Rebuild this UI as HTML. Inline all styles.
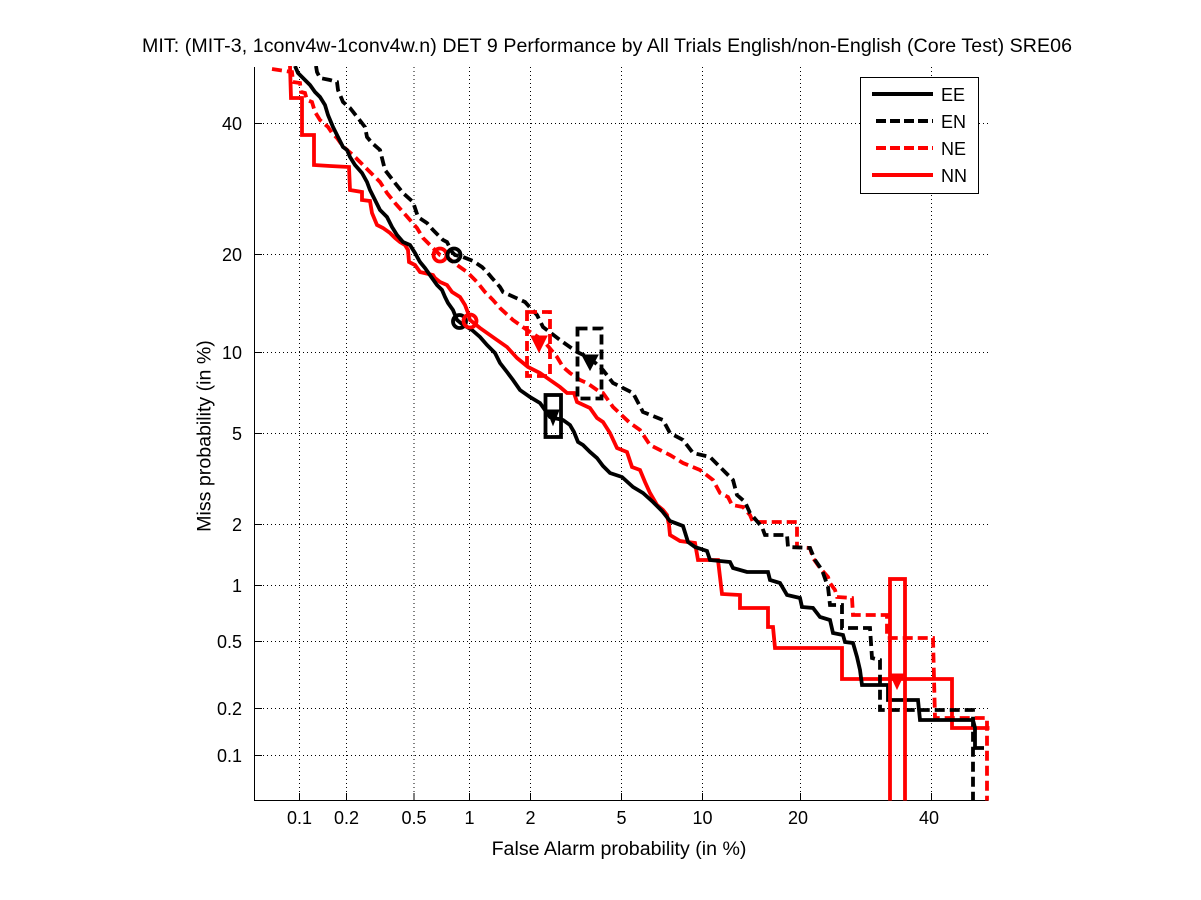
<!DOCTYPE html>
<html>
<head>
<meta charset="utf-8">
<style>
  html, body { margin: 0; padding: 0; background: #ffffff; }
  svg { display: block; }
  text { font-family: "Liberation Sans", Arial, Helvetica, sans-serif; fill: #000; }
</style>
</head>
<body>
<svg width="1201" height="900" viewBox="0 0 1201 900" xmlns="http://www.w3.org/2000/svg">
  <defs>
    <clipPath id="plotclip">
      <rect x="254.5" y="66" width="735" height="734.5"/>
    </clipPath>
  </defs>
  <rect x="0" y="0" width="1201" height="900" fill="#ffffff"/>

  <!-- Title -->
  <text x="142" y="52" font-size="19.6" textLength="930" lengthAdjust="spacing">MIT: (MIT-3, 1conv4w-1conv4w.n) DET 9 Performance by All Trials English/non-English (Core Test) SRE06</text>

  <!-- Grid (dotted) -->
  <g stroke="#000" stroke-width="1" stroke-dasharray="1 3" shape-rendering="crispEdges" fill="none">
    <line x1="299.5" y1="67" x2="299.5" y2="800"/>
    <line x1="346.5" y1="67" x2="346.5" y2="800"/>
    <line x1="414" y1="67" x2="414" y2="800"/>
    <line x1="469.5" y1="67" x2="469.5" y2="800"/>
    <line x1="530.5" y1="67" x2="530.5" y2="800"/>
    <line x1="621.5" y1="67" x2="621.5" y2="800"/>
    <line x1="702.5" y1="67" x2="702.5" y2="800"/>
    <line x1="800.5" y1="67" x2="800.5" y2="800"/>
    <line x1="931.5" y1="67" x2="931.5" y2="800"/>
    <line x1="255" y1="123.5" x2="988" y2="123.5"/>
    <line x1="255" y1="254.5" x2="988" y2="254.5"/>
    <line x1="255" y1="352.5" x2="988" y2="352.5"/>
    <line x1="255" y1="433.5" x2="988" y2="433.5"/>
    <line x1="255" y1="524.5" x2="988" y2="524.5"/>
    <line x1="255" y1="585.5" x2="988" y2="585.5"/>
    <line x1="255" y1="641.5" x2="988" y2="641.5"/>
    <line x1="255" y1="708.5" x2="988" y2="708.5"/>
    <line x1="255" y1="755.5" x2="988" y2="755.5"/>
  </g>

  <!-- Axes lines -->
  <g stroke="#000" stroke-width="1.2" shape-rendering="crispEdges" fill="none">
    <line x1="254.5" y1="67" x2="254.5" y2="801"/>
    <line x1="254" y1="800.5" x2="988.5" y2="800.5"/>
    <line x1="299.5" y1="800.5" x2="299.5" y2="793"/>
    <line x1="346.5" y1="800.5" x2="346.5" y2="793"/>
    <line x1="414" y1="800.5" x2="414" y2="793"/>
    <line x1="469.5" y1="800.5" x2="469.5" y2="793"/>
    <line x1="530.5" y1="800.5" x2="530.5" y2="793"/>
    <line x1="621.5" y1="800.5" x2="621.5" y2="793"/>
    <line x1="702.5" y1="800.5" x2="702.5" y2="793"/>
    <line x1="800.5" y1="800.5" x2="800.5" y2="793"/>
    <line x1="931.5" y1="800.5" x2="931.5" y2="793"/>
    <line x1="254.5" y1="123.5" x2="262" y2="123.5"/>
    <line x1="254.5" y1="254.5" x2="262" y2="254.5"/>
    <line x1="254.5" y1="352.5" x2="262" y2="352.5"/>
    <line x1="254.5" y1="433.5" x2="262" y2="433.5"/>
    <line x1="254.5" y1="524.5" x2="262" y2="524.5"/>
    <line x1="254.5" y1="585.5" x2="262" y2="585.5"/>
    <line x1="254.5" y1="641.5" x2="262" y2="641.5"/>
    <line x1="254.5" y1="708.5" x2="262" y2="708.5"/>
    <line x1="254.5" y1="755.5" x2="262" y2="755.5"/>
  </g>

  <!-- X tick labels -->
  <g font-size="18" text-anchor="middle">
    <text x="299.5" y="824">0.1</text>
    <text x="346.5" y="824">0.2</text>
    <text x="414" y="824">0.5</text>
    <text x="469.5" y="824">1</text>
    <text x="530.5" y="824">2</text>
    <text x="621.5" y="824">5</text>
    <text x="702.5" y="824">10</text>
    <text x="798" y="824">20</text>
    <text x="929" y="824">40</text>
  </g>

  <!-- Y tick labels -->
  <g font-size="18" text-anchor="end">
    <text x="242" y="130">40</text>
    <text x="242" y="261">20</text>
    <text x="242" y="359">10</text>
    <text x="242" y="440">5</text>
    <text x="242" y="531">2</text>
    <text x="242" y="592">1</text>
    <text x="242" y="648">0.5</text>
    <text x="242" y="715">0.2</text>
    <text x="242" y="762">0.1</text>
  </g>

  <!-- Axis labels -->
  <text x="619" y="855" font-size="19.6" text-anchor="middle">False Alarm probability (in %)</text>
  <text transform="translate(210.5,436) rotate(-90)" font-size="19.6" text-anchor="middle">Miss probability (in %)</text>

  <!-- Curves -->
  <g clip-path="url(#plotclip)" fill="none" stroke-width="3.8" stroke-linejoin="miter" stroke-linecap="butt">
    <!-- NN red solid -->
    <path stroke="#ff0000" d="M290,66 L291,98 L302,98 L302,135 L314,135 L314,165 L330,166 L349,167 L350,190 L362,192 L362,200 L370,201 L372,213 L377,225 L383,228 L390,233 L395,238 L400,242 L405,245 L408,250 L409,262 L415,265 L420,272 L433,275 L435,278 L440,282 L447,285 L452,292 L460,297 L465,305 L468,313 L470,320 L480,328 L497,340 L507,347 L517,358 L528,367 L540,373 L550,380 L560,387 L567,393 L574,393 L577,402 L590,408 L597,418 L603,422 L610,433 L617,448 L627,452 L632,467 L640,470 L645,482 L650,493 L657,505 L663,510 L667,515 L669,525 L670,535 L680,541 L695,543 L698,560 L718,560 L722,594 L740,595 L740,608 L768,608 L768,627 L773,627 L775,648 L842,648 L842,679 L952,679 L952,728 L992,728"/>
    <!-- NE red dashed -->
    <path stroke="#ff0000" stroke-dasharray="10 5" d="M272,69 L292,72 L293,82 L300,83 L301,92 L305,93 L307,100 L312,102 L315,112 L320,120 L328,127 L332,133 L337,138 L342,145 L347,150 L353,155 L360,162 L370,172 L380,182 L387,193 L395,203 L403,212 L410,220 L417,228 L423,238 L432,247 L440,255 L448,258 L457,265 L467,272 L477,282 L485,292 L493,300 L500,308 L513,320 L527,330 L543,340 L557,357 L563,367 L570,373 L580,380 L587,383 L600,392 L603,393 L613,407 L630,423 L640,430 L650,445 L670,455 L683,463 L700,470 L713,480 L720,493 L728,497 L732,505 L743,507 L750,515 L753,522 L797,522 L797,547 L810,548 L813,558 L820,568 L828,577 L830,583 L835,590 L837,597 L852,598 L853,615 L887,615 L887,638 L933,638 L935,718 L987,718 L987,802"/>
    <!-- EN black dashed -->
    <path stroke="#000000" stroke-dasharray="10 5" d="M316,66 L317,72 L320,78 L330,80 L337,82 L338,90 L343,102 L350,108 L358,118 L365,127 L367,137 L372,143 L380,150 L385,170 L395,183 L403,193 L413,202 L418,217 L427,223 L433,230 L443,240 L447,242 L452,252 L455,255 L463,257 L473,261 L482,267 L487,272 L492,278 L500,287 L503,292 L525,302 L537,315 L543,327 L560,340 L577,352 L590,358 L603,370 L613,383 L633,393 L643,412 L663,420 L670,433 L683,440 L693,453 L710,457 L720,467 L730,477 L733,480 L737,495 L745,502 L750,513 L762,527 L765,535 L787,535 L788,547 L810,548 L815,560 L822,570 L828,587 L830,605 L842,605 L842,628 L870,628 L872,658 L880,660 L880,710 L973,710 L973,802"/>
    <!-- EE black solid -->
    <path stroke="#000000" d="M295,66 L298,73 L305,80 L310,85 L315,92 L320,97 L325,105 L328,115 L333,127 L338,137 L343,147 L347,150 L350,157 L355,165 L362,173 L367,182 L370,190 L375,200 L380,210 L387,217 L392,227 L397,235 L403,242 L410,245 L415,253 L420,262 L425,268 L432,278 L437,285 L442,290 L445,297 L448,303 L453,310 L457,320 L462,324 L472,330 L480,337 L487,345 L495,353 L500,363 L507,372 L513,380 L520,390 L530,397 L540,403 L550,417 L563,420 L570,425 L574,432 L578,442 L583,445 L590,452 L597,458 L603,466 L610,473 L622,477 L633,487 L643,493 L653,502 L662,511 L670,521 L683,526 L688,542 L695,547 L707,551 L710,560 L730,562 L733,568 L747,572 L768,572 L770,580 L780,583 L787,595 L800,598 L802,607 L813,608 L820,617 L830,620 L833,633 L843,635 L845,642 L853,643 L857,657 L860,670 L862,685 L888,685 L888,700 L918,700 L920,720 L973,720 L975,728 L975,748 L984,748"/>

    <!-- Confidence boxes -->
    <rect x="527" y="312" width="23" height="64" stroke="#ff0000" stroke-dasharray="10 5"/>
    <rect x="577.5" y="328.5" width="24" height="70" stroke="#000000" stroke-dasharray="10 5"/>
    <rect x="545.5" y="395" width="15.5" height="42" stroke="#000000"/>
    <rect x="890" y="579" width="15" height="240" stroke="#ff0000"/>

    <!-- Triangles -->
    <polygon points="531,336 547,336 539,352" fill="#ff0000" stroke="#ff0000" stroke-width="1"/>
    <polygon points="582,355 598,355 590,370" fill="#000000" stroke="#000000" stroke-width="1"/>
    <polygon points="547,410 559,410 553,425" fill="#000000" stroke="#000000" stroke-width="1"/>
    <polygon points="890,674 904,674 897,689" fill="#ff0000" stroke="#ff0000" stroke-width="1"/>

    <!-- Circles -->
    <circle cx="440" cy="255" r="6.5" stroke="#ff0000" stroke-width="3.8"/>
    <circle cx="454" cy="255" r="6.5" stroke="#000000" stroke-width="3.8"/>
    <circle cx="459.5" cy="321.5" r="6.5" stroke="#000000" stroke-width="3.8"/>
    <circle cx="470" cy="321" r="6.5" stroke="#ff0000" stroke-width="3.8"/>
  </g>

  <!-- Legend -->
  <rect x="860.5" y="77.5" width="118" height="116" fill="#ffffff" stroke="#000" stroke-width="1" shape-rendering="crispEdges"/>
  <g fill="none" stroke-width="4">
    <line x1="872" y1="94" x2="933" y2="94" stroke="#000"/>
    <line x1="876" y1="121" x2="933" y2="121" stroke="#000" stroke-dasharray="10 4"/>
    <line x1="876" y1="148" x2="933" y2="148" stroke="#ff0000" stroke-dasharray="10 4"/>
    <line x1="872" y1="175" x2="933" y2="175" stroke="#ff0000"/>
  </g>
  <g font-size="18">
    <text x="941" y="101">EE</text>
    <text x="941" y="128">EN</text>
    <text x="941" y="155">NE</text>
    <text x="941" y="182">NN</text>
  </g>
</svg>
</body>
</html>
